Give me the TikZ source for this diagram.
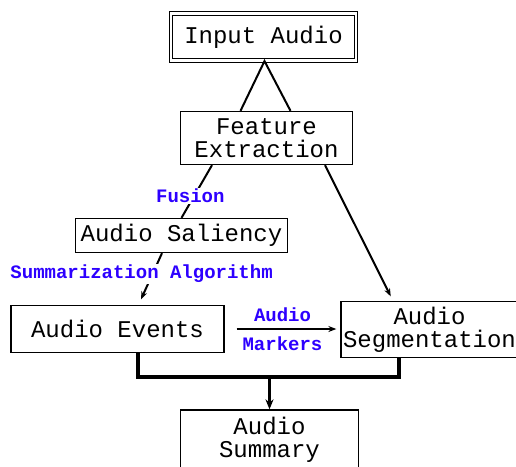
\documentclass[tikz,border=0pt]{standalone}
\usepackage{fontspec}
\setmonofont{Liberation Mono}
\usepackage{tikz}
\usetikzlibrary{arrows.meta}
\definecolor{markblue}{RGB}{45,0,255}

\begin{document}
\begin{tikzpicture}
				[x=1pt,y=-1pt,
				box/.style={draw,line width=1.3pt,inner sep=0pt,align=center,
					font=\ttfamily\fontsize{24}{23}\selectfont},
				lbl/.style={text=markblue,fill=white,inner sep=1pt,
					font=\ttfamily\bfseries\fontsize{19}{19}\selectfont},
				link/.style={line width=2pt},
				tip/.style={link,-{Stealth[length=8pt,width=6pt]}},
				bus/.style={line width=3.4pt}]
				\useasboundingbox (0,0) rectangle (516,466);
				\clip (0,0) rectangle (516,466);
				\node[box,double,double distance=2.5pt,line width=1.2pt,
					minimum width=185pt,minimum height=47pt] (input) at (263.5,37) {Input Audio};
				\node[box,minimum width=172pt,minimum height=53pt] (feature) at (266.5,138) {Feature\\Extraction};
				\node[box,minimum width=212pt,minimum height=34pt] (saliency) at (181.5,235.5) {Audio Saliency};
				\node[box,minimum width=213pt,minimum height=47pt] (events) at (117.5,329) {Audio Events};
				\node[box,minimum width=177pt,minimum height=56pt] (segment) at (429.5,329.5) {Audio\\Segmentation};
				\node[box,minimum width=178pt,minimum height=60pt] (summary) at (269.5,440) {Audio\\Summary};
				\draw[link] ([xshift=-26pt]feature.north) -- ([xshift=1pt]input.south) -- ([xshift=24pt]feature.north);
				\draw[link] ([xshift=-54.5pt]feature.south) -- node[lbl,pos=.58,xshift=-4pt] {Fusion} (saliency.north);
				\draw[tip,shorten >=6pt] ([xshift=-19.5pt]saliency.south) -- node[lbl,pos=.4,xshift=-11pt] {Summarization Algorithm} ([xshift=21pt]events.north);
				\draw[tip,shorten >=5pt] ([xshift=58.5pt]feature.south) -- ([xshift=-36.5pt]segment.north);
				\draw[tip,shorten <=12pt,shorten >=4pt] (events.east) -- node[lbl,above=6pt,fill=none,inner sep=0pt] {Audio}
					node[lbl,below=7pt,fill=none,inner sep=0pt] {Markers} (events.east -| segment.west);
				\coordinate (join) at (269.5,377);
				\draw[bus] ([xshift=20.5pt]events.south) |- (join) -| ([xshift=-30.5pt]segment.south);
				\draw[bus,-{Stealth[length=10pt,width=8pt]}] (join) -- (summary.north);
				\end{tikzpicture}
\end{document}
